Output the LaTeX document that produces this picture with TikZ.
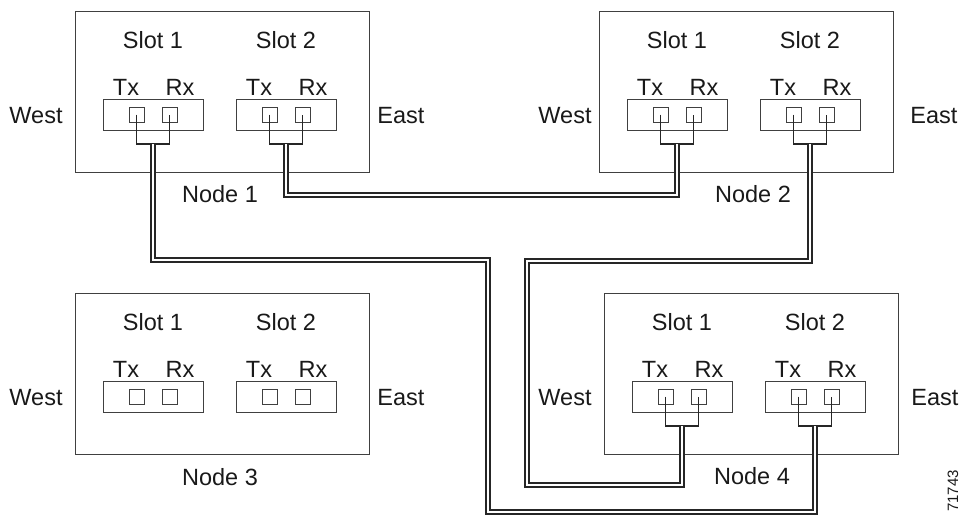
\documentclass[tikz,border=0pt]{standalone}
\usepackage{fontspec}
\setmainfont{Liberation Sans}
\usepackage{tikz}

\tikzset{
  nodebox/.style={draw=black!75, line width=0.9pt, minimum width=294pt, minimum height=161pt, inner sep=0pt},
  portbox/.style={draw=black!75, line width=0.9pt, minimum width=100pt, minimum height=31pt, inner sep=0pt},
  jack/.style={draw=black!75, line width=0.9pt, minimum size=15pt, inner sep=0pt},
  lbl/.style={font=\fontsize{23.5}{28}\selectfont, text=black!90, inner sep=0pt},
  patch/.style={line width=1.3pt, black!85},
  fiber/.style={double, double distance=2.5pt, line width=1.3pt, black!85},
}

\begin{document}
\begin{tikzpicture}[x=1pt,y=-1pt]
  \useasboundingbox (0,0) rectangle (962,515);
  \foreach \n/\bx/\by/\wx/\ex/\nx/\ny in {1/75/11/36/401/220/194, 2/599/11/565/934/753/194,
                                          3/75/293/36/401/220/477, 4/604/293/565/935/752/476} {
    \node[nodebox] (N\n) at (\bx+147,\by+80.5) {};
    \node[lbl] (N\n-west) at (\wx,\by+105) {West};
    \node[lbl] (N\n-east) at (\ex,\by+105) {East};
    \node[lbl] (N\n-name) at (\nx,\ny) {Node \n};
    \foreach \s in {1,2} {
      \node[portbox] (N\n-S\s) at (\bx+78+133*\s-133,\by+103.5) {};
      \node[lbl] (N\n-S\s-name) at ([yshift=74.5pt]N\n-S\s) {Slot \s};
      \node[lbl] (N\n-S\s-txl) at ([xshift=-27pt,yshift=27pt]N\n-S\s) {Tx};
      \node[lbl] (N\n-S\s-rxl) at ([xshift=27pt,yshift=27pt]N\n-S\s) {Rx};
      \node[jack] (N\n-S\s-tx) at ([xshift=-16.5pt]N\n-S\s) {};
      \node[jack] (N\n-S\s-rx) at ([xshift=16.5pt]N\n-S\s) {};
      \coordinate (N\n-S\s-j) at ([yshift=-29.5pt]N\n-S\s);
    }
  }
  % patch cords at the slots
  \foreach \n in {1,2,4}
    \foreach \s in {1,2}
      \draw[patch] (N\n-S\s-tx.center) |- (N\n-S\s-j) -| (N\n-S\s-rx.center);
  % fibre runs
  \draw[fiber] (N1-S1-j) |- (488,260) -- (488,512) -| (N4-S2-j);
  \draw[fiber] (N1-S2-j) -- ++(0,51) -| (N2-S1-j);
  \draw[fiber] (N2-S2-j) |- (527,261) -- (527,485) -| (N4-S1-j);
  \node[font=\fontsize{15}{17}\selectfont, text=black!90, rotate=90, inner sep=0pt] (figno) at (953,491) {71743};
\end{tikzpicture}
\end{document}
